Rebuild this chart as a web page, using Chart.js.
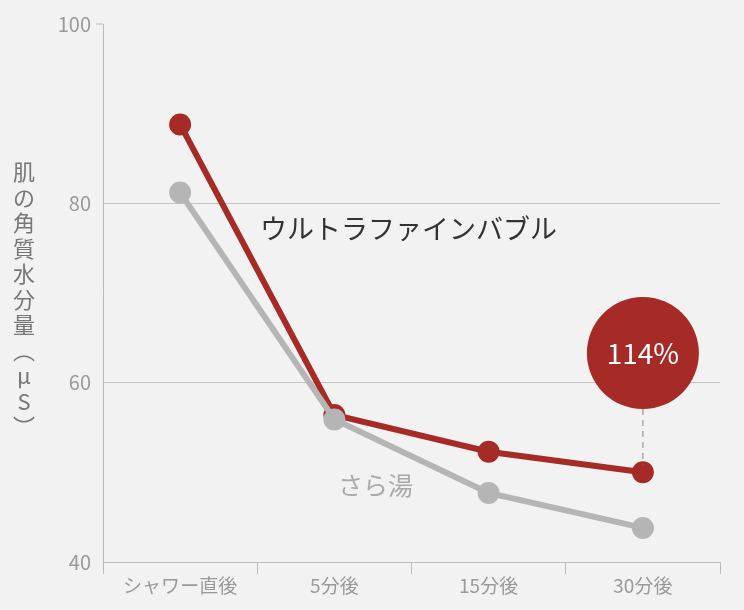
<!DOCTYPE html>
<html><head><meta charset="utf-8">
<script src="https://cdn.jsdelivr.net/npm/chart.js@4"></script>
<style>html,body{margin:0;background:#f1f2f1}</style>
</head><body>
<canvas id="c" width="744" height="610" style="width:744px;height:610px"></canvas>
<script>
const categories = ['シャワー直後', '5分後', '15分後', '30分後'];
const bubbleValues = [88.8, 56.4, 52.3, 50.0];
const waterValues = [81.2, 55.9, 47.7, 43.8];
const yTicks = [40, 60, 80, 100];
const FONT = '"Noto Sans CJK JP", "Noto Sans", sans-serif';

const overlay = {
  id: 'overlay',
  afterDatasetsDraw(chart) {
    const {ctx, scales: {x, y}} = chart;
    ctx.save();
    // dashed connector and badge
    const cx = x.getPixelForValue(3);
    const cy = y.getPixelForValue(63.3);
    ctx.strokeStyle = '#aaa'; ctx.lineWidth = 1.5; ctx.setLineDash([6, 5]);
    ctx.beginPath(); ctx.moveTo(cx, cy + 56); ctx.lineTo(cx, y.getPixelForValue(bubbleValues[3]) - 8); ctx.stroke();
    ctx.setLineDash([]);
    ctx.fillStyle = '#a62a25';
    ctx.beginPath(); ctx.arc(cx, cy, 56, 0, Math.PI * 2); ctx.fill();
    ctx.fillStyle = '#fff'; ctx.font = '28px ' + FONT; ctx.textAlign = 'center'; ctx.textBaseline = 'middle';
    ctx.fillText('114%', cx, cy);
    // series labels
    ctx.textAlign = 'left';
    ctx.fillStyle = '#333'; ctx.font = '27px ' + FONT;
    ctx.fillText('ウルトラファインバブル', 260, 229);
    ctx.fillStyle = '#aaa'; ctx.font = '25px ' + FONT;
    ctx.fillText('さら湯', 338, 485);
    // vertical axis title
    ctx.fillStyle = '#777'; ctx.font = '22px ' + FONT; ctx.textAlign = 'center';
    const chars = ['肌', 'の', '角', '質', '水', '分', '量', '︵', 'μ', 'S', '︶'];
    chars.forEach((ch, i) => ctx.fillText(ch, 24, 172 + i * 25.5));
    // top tick
    ctx.strokeStyle = '#bbb'; ctx.lineWidth = 1;
    ctx.beginPath(); ctx.moveTo(96, y.top); ctx.lineTo(x.left, y.top); ctx.stroke();
    ctx.restore();
  }
};

new Chart(document.getElementById('c'), {
  type: 'line',
  data: {
    labels: categories,
    datasets: [
      {data: waterValues, borderColor: '#b5b5b5', backgroundColor: '#b5b5b5', borderWidth: 6, pointRadius: 8, pointHoverRadius: 8},
      {data: bubbleValues, borderColor: '#a62a25', backgroundColor: '#a62a25', borderWidth: 6, pointRadius: 8, pointHoverRadius: 8}
    ]
  },
  options: {
    responsive: false, animation: false,
    layout: {padding: {top: 24, right: 24, left: 0, bottom: 0}},
    plugins: {legend: {display: false}, tooltip: {enabled: false}},
    scales: {
      x: {
        offset: true,
        grid: {offset: true, drawOnChartArea: false, color: '#bbb', tickLength: 12},
        border: {color: '#bbb'},
        ticks: {color: '#999', font: {size: 19, family: FONT}, padding: 0},
        afterFit(s) { s.height = 48; }
      },
      y: {
        min: 40, max: 100,
        afterBuildTicks(s) { s.ticks = yTicks.map(v => ({value: v})); },
        grid: {color: c => (c.tick && (c.tick.value === 60 || c.tick.value === 80)) ? '#c4c4c4' : 'rgba(0,0,0,0)', drawTicks: false},
        border: {color: '#bbb'},
        ticks: {color: '#999', font: {size: 20, family: FONT}, padding: 12},
        afterFit(s) { s.width = 103; }
      }
    }
  },
  plugins: [overlay]
});
</script>
</body></html>
